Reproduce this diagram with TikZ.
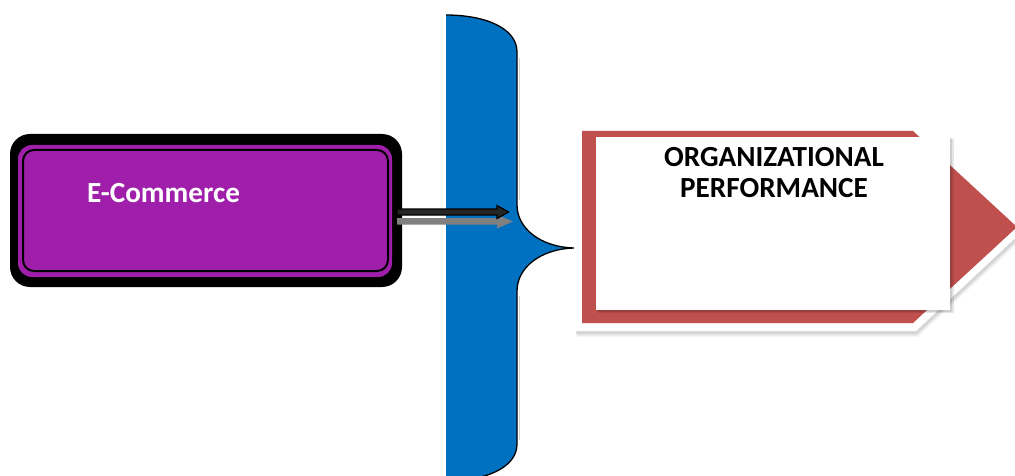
\documentclass[tikz,border=0pt]{standalone}
\usepackage{fontspec}
\setmainfont{Carlito}
\definecolor{ecpurple}{HTML}{9F1FAB}
\definecolor{braceblue}{HTML}{0070C0}
\definecolor{perfred}{HTML}{C0504D}
\definecolor{arrgray}{HTML}{808080}
\begin{document}
\begin{tikzpicture}[x=1pt,y=-1pt,
  lbl/.style={inner sep=0pt,font=\fontsize{29.2}{30}\selectfont\bfseries},
  outline/.style={draw=black,line width=1.3pt}]
\useasboundingbox (0,0) rectangle (1015,476);

% brace
\fill[braceblue] (446,15) .. controls (485,15) and (517,28) .. (517,52) -- (517,205)
  .. controls (517,228) and (540,247) .. (574,248)
  .. controls (540,249) and (517,268) .. (517,291) -- (517,444)
  .. controls (517,468) and (485,481) .. (446,481) -- cycle;
\draw[black!18,line width=1.2pt] (519.2,58) -- (519.2,200);
\draw[black!18,line width=1.2pt] (519.2,296) -- (519.2,440);
\draw[outline] (446,15) .. controls (485,15) and (517,28) .. (517,52) -- (517,205)
  .. controls (517,228) and (540,247) .. (574,248)
  .. controls (540,249) and (517,268) .. (517,291) -- (517,444)
  .. controls (517,468) and (485,481) .. (446,481);
\coordinate (bracetip) at (574,248);

% E-Commerce box
\fill[black] (10,134) [rounded corners=20pt] rectangle (402,287);
\fill[ecpurple] (18,145) [rounded corners=14pt] rectangle (392,277);
\filldraw[fill=ecpurple,draw=black,line width=2pt] (23,150) [rounded corners=11pt] rectangle (388,271);
\node[lbl,text=white,anchor=base west] (ecom) at (87,202) {E-Commerce};

% arrows
\fill[arrgray] (397,218) -- (497,218) -- (497,214.5) -- (513,221.5) -- (497,228.5) -- (497,224.5) -- (397,224.5) -- cycle;
\filldraw[fill=black!85,draw=black,line width=1.2pt] (397,209) -- (497,209) -- (497,205.5) -- (508.5,212) -- (497,218.5) -- (497,215) -- (397,215) -- cycle;

% performance shape
\foreach \d/\o in {6/0.04,4.5/0.06,3/0.08}{
  \fill[black,opacity=\o] (575+\d*0.3,123+\d) -- (916+\d*0.3,123+\d) -- (1025+\d*0.3,229+\d) -- (916+\d*0.3,331+\d) -- (575+\d*0.3,331+\d) -- cycle;}
\fill[white] (575,123) -- (916,123) -- (1025,229) -- (916,331) -- (575,331) -- cycle;
\fill[perfred] (582,131) -- (913,131) -- (1017,227) -- (913,323) -- (582,323) -- cycle;
\fill[black,opacity=0.10] (598,139) rectangle (954,313);
\fill[black,opacity=0.10] (597,138) rectangle (952,311.5);
\fill[white] (596,137) rectangle (950,310);
\node[lbl,text=black,anchor=base] (perf1) at (774,167) {ORGANIZATIONAL};
\node[lbl,text=black,anchor=base] (perf2) at (774,197) {PERFORMANCE};
\end{tikzpicture}
\end{document}
